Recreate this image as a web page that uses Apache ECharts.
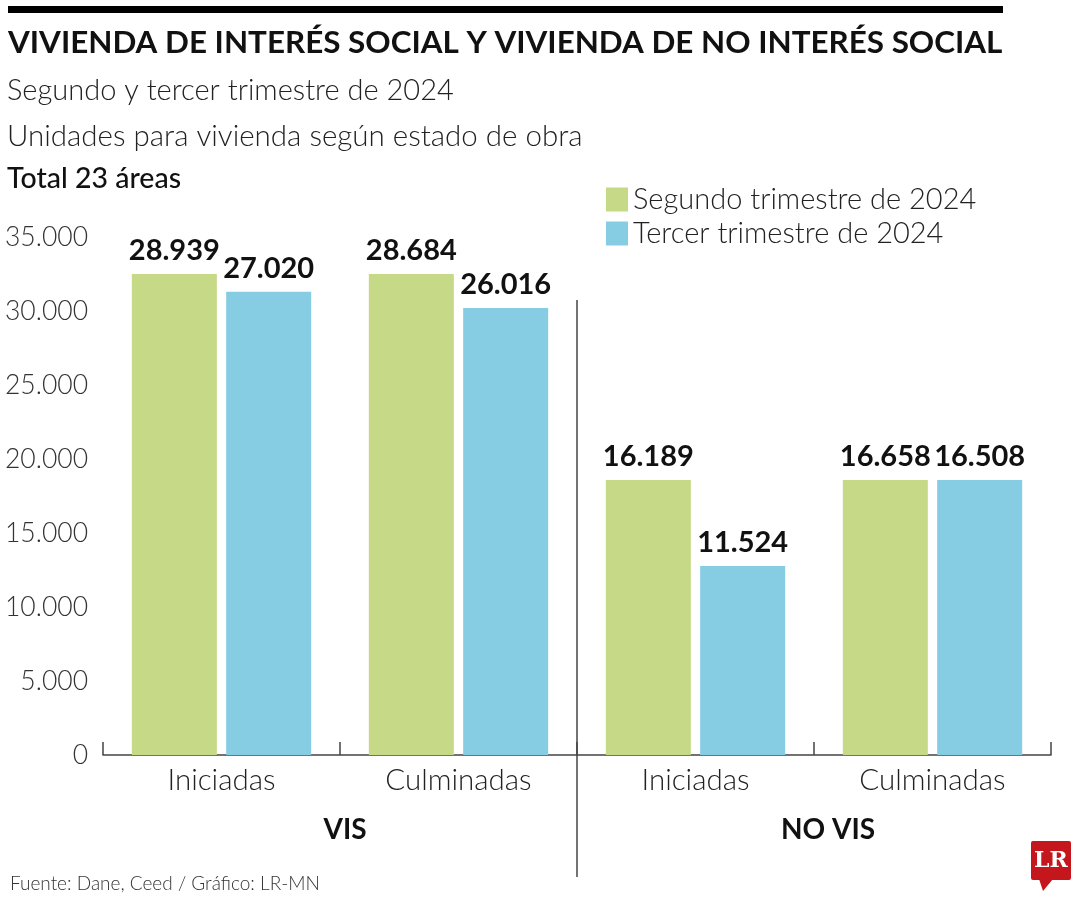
<!DOCTYPE html>
<html><head><meta charset="utf-8">
<script src="https://cdn.jsdelivr.net/npm/echarts@6/dist/echarts.min.js"></script>
<style>html,body{margin:0;padding:0;background:#fff}#c{width:1080px;height:900px}</style>
</head><body><div id="c"></div>
<script>
// ---- data ----
const categories = ['Iniciadas', 'Culminadas', 'Iniciadas', 'Culminadas'];
const groups = ['VIS', 'VIS', 'NO VIS', 'NO VIS'];
const seriesNames = ['Segundo trimestre de 2024', 'Tercer trimestre de 2024'];
// bar heights as drawn in the reference (read against the y axis)
const segundoBars = [32530, 32530, 18600, 18600];
const tercerBars = [31330, 30230, 12780, 18600];
// value labels printed above the bars
const segundoLabels = ['28.939', '28.684', '16.189', '16.658'];
const tercerLabels = ['27.020', '26.016', '11.524', '16.508'];
const yMin = 0, yMax = 35000, yStep = 5000;
const titleText = 'VIVIENDA DE INTERÉS SOCIAL Y VIVIENDA DE NO INTERÉS SOCIAL';
const subtitle1 = 'Segundo y tercer trimestre de 2024';
const subtitle2 = 'Unidades para vivienda según estado de obra';
const subtitle3 = 'Total 23 áreas';
const sourceText = 'Fuente: Dane, Ceed / Gráfico: LR-MN';

// ---- chart ----
const FONT = 'Lato, "Open Sans", sans-serif';
const chart = echarts.init(document.getElementById('c'), null, {renderer: 'canvas'});
const fmtThousands = v => String(v).replace(/\B(?=(\d{3})+(?!\d))/g, '.');

const option = {
  backgroundColor: '#ffffff',
  animation: false,
  textStyle: {fontFamily: FONT},
  legend: {
    orient: 'vertical', left: 601, top: 180,
    itemWidth: 22, itemHeight: 24, itemGap: 5,
    icon: 'rect',
    textStyle: {fontSize: 29, fontWeight: 300, color: '#222', fontFamily: FONT},
    data: seriesNames
  },
  grid: {left: 103, right: 29, top: 237.5, bottom: 145, containLabel: false},
  xAxis: {
    type: 'category',
    data: categories.map((c, i) => groups[i] + '|' + c),
    axisLine: {lineStyle: {color: '#444', width: 1.5}},
    axisTick: {show: true, inside: true, length: 13, lineStyle: {color: '#444', width: 1.5}},
    axisLabel: {
      margin: 10, fontSize: 29.5, fontWeight: 300, color: '#222', fontFamily: FONT,
      formatter: (v, i) => categories[i]
    }
  },
  yAxis: {
    type: 'value', min: yMin, max: yMax, interval: yStep,
    axisLine: {show: false}, axisTick: {show: false}, splitLine: {show: false},
    axisLabel: {margin: 15, fontSize: 26.5, fontWeight: 300, color: '#333', fontFamily: FONT,
      formatter: v => fmtThousands(v)}
  },
  series: [
    {
      name: seriesNames[0], type: 'bar', data: segundoBars,
      barWidth: 85, barGap: '11%',
      itemStyle: {color: '#c5d986'},
      label: {show: true, position: 'top', distance: 9, fontSize: 29, fontWeight: 'bold',
        color: '#111', fontFamily: FONT, formatter: p => segundoLabels[p.dataIndex]}
    },
    {
      name: seriesNames[1], type: 'bar', data: tercerBars,
      barWidth: 85,
      itemStyle: {color: '#86cde3'},
      label: {show: true, position: 'top', distance: 9, fontSize: 29, fontWeight: 'bold',
        color: '#111', fontFamily: FONT, formatter: p => tercerLabels[p.dataIndex]}
    }
  ]
};
chart.setOption(option);

// ---- decorations ----
const c1 = chart.convertToPixel({xAxisIndex: 0}, 1);
const c2 = chart.convertToPixel({xAxisIndex: 0}, 2);
const c0 = chart.convertToPixel({xAxisIndex: 0}, 0);
const c3 = chart.convertToPixel({xAxisIndex: 0}, 3);
const sepX = (c1 + c2) / 2;

chart.setOption({
  graphic: [
    {type: 'rect', shape: {x: 8, y: 6, width: 995, height: 7}, style: {fill: '#000'}},
    {type: 'text', x: 8, y: 27, style: {text: titleText, font: 'bold 31.4px ' + FONT, fill: '#111'}},
    {type: 'text', x: 7, y: 76, style: {text: subtitle1, font: '300 29px ' + FONT, fill: '#222'}},
    {type: 'text', x: 7, y: 121, style: {text: subtitle2, font: '300 29.5px ' + FONT, fill: '#222'}},
    {type: 'text', x: 7, y: 164, style: {text: subtitle3, font: '500 28.5px ' + FONT, fill: '#111'}},
    {type: 'line', shape: {x1: sepX, y1: 300, x2: sepX, y2: 877}, style: {stroke: '#444', lineWidth: 1.5}},
    {type: 'text', x: (c0 + c1) / 2 + 5, y: 830, style: {text: groups[0], font: 'bold 28px ' + FONT, fill: '#111', align: 'center', verticalAlign: 'middle'}},
    {type: 'text', x: (c2 + c3) / 2 + 14, y: 830, style: {text: groups[2], font: 'bold 28px ' + FONT, fill: '#111', align: 'center', verticalAlign: 'middle'}},
    {type: 'text', x: 10, y: 884, style: {text: sourceText, font: '300 19px ' + FONT, fill: '#333', verticalAlign: 'middle'}},
    {type: 'rect', shape: {x: 1031, y: 841, width: 40, height: 39, r: 2}, style: {fill: '#c4161c'}},
    {type: 'polygon', shape: {points: [[1039, 879], [1053, 879], [1043, 891]]}, style: {fill: '#c4161c'}},
    {type: 'text', x: 1051, y: 861, style: {text: 'LR', font: 'bold 22px "DejaVu Serif", "Liberation Serif", serif', fill: '#fff', align: 'center', verticalAlign: 'middle'}}
  ]
});
</script></body></html>
